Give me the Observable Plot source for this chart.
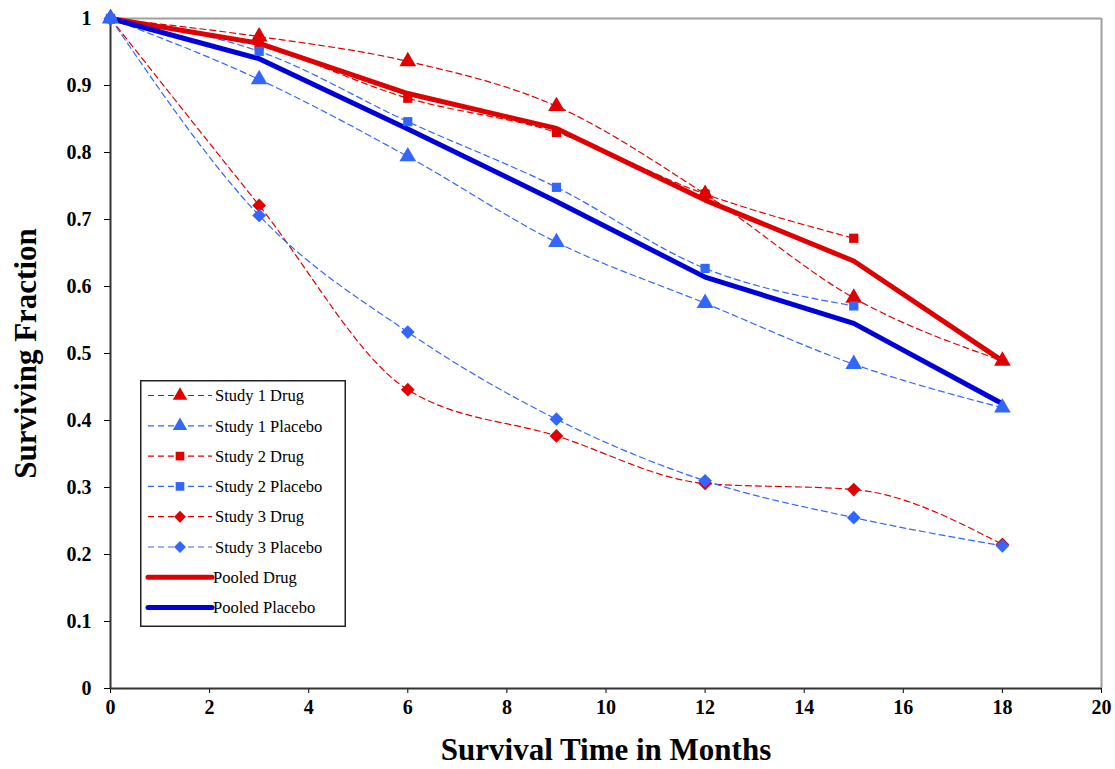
<!DOCTYPE html>
<html>
<head>
<meta charset="utf-8">
<script src="https://cdn.jsdelivr.net/npm/d3@7"></script>
<script src="https://cdn.jsdelivr.net/npm/@observablehq/plot@0.6"></script>
<style>
  body { margin: 0; background: #fff; }
  #wrap { position: relative; width: 1115px; height: 769px; }
  #legend { position: absolute; left: 140px; top: 380px; }
  #chart svg text { font-family: 'Liberation Serif', 'Times New Roman', serif; }
</style>
</head>
<body>
<div id="wrap"><div id="chart"></div><div id="legend"></div></div>
<script>
// ---- data ----
const months = [0, 3, 6, 9, 12, 15, 18];
const study1Drug    = [1, 0.973, 0.936, 0.869, 0.738, 0.583, 0.489];
const study1Placebo = [1, 0.909, 0.794, 0.666, 0.575, 0.484, 0.419];
const study2Drug    = [1, 0.960, 0.881, 0.830, 0.738, 0.672];
const study2Placebo = [1, 0.951, 0.846, 0.748, 0.627, 0.571];
const study3Drug    = [1, 0.721, 0.446, 0.377, 0.306, 0.297, 0.215];
const study3Placebo = [1, 0.706, 0.532, 0.402, 0.310, 0.255, 0.213];
const pooledDrug    = [1, 0.963, 0.888, 0.836, 0.729, 0.638, 0.489];
const pooledPlacebo = [1, 0.940, 0.835, 0.727, 0.614, 0.545, 0.425];
const xTicks = [0, 2, 4, 6, 8, 10, 12, 14, 16, 18, 20];
const yTicks = [0, 0.1, 0.2, 0.3, 0.4, 0.5, 0.6, 0.7, 0.8, 0.9, 1];
const seriesNames = ["Study 1 Drug", "Study 1 Placebo", "Study 2 Drug", "Study 2 Placebo",
                     "Study 3 Drug", "Study 3 Placebo", "Pooled Drug", "Pooled Placebo"];

const RED = "#e00000", BLUE_M = "#3366ff", BLUE_P = "#0000d8";
const studies = [
  {name: seriesNames[0], vals: study1Drug,    color: RED,    symbol: "triangle"},
  {name: seriesNames[1], vals: study1Placebo, color: BLUE_M, symbol: "triangle"},
  {name: seriesNames[2], vals: study2Drug,    color: RED,    symbol: "square"},
  {name: seriesNames[3], vals: study2Placebo, color: BLUE_M, symbol: "square"},
  {name: seriesNames[4], vals: study3Drug,    color: RED,    symbol: "diamond2"},
  {name: seriesNames[5], vals: study3Placebo, color: BLUE_M, symbol: "diamond2"}
];
const pooled = [
  {name: seriesNames[6], vals: pooledDrug,    color: RED},
  {name: seriesNames[7], vals: pooledPlacebo, color: BLUE_P}
];
const toRows = s => s.vals.map((v, i) => ({month: months[i], value: v, series: s.name}));

const font = "'Liberation Serif', 'Times New Roman', serif";
const marks = [
  Plot.ruleY([1], {stroke: "#a0a0a0", strokeWidth: 2}),
  Plot.ruleX([20], {stroke: "#a0a0a0", strokeWidth: 2}),
  Plot.axisX({ticks: xTicks, tickSize: 5, tickPadding: 6, fontSize: 20, fontWeight: "bold", label: null,
              fontFamily: font}),
  Plot.axisY({ticks: yTicks, tickSize: 6, tickPadding: 13, fontSize: 20, fontWeight: "bold", label: null,
              fontFamily: font, tickFormat: d => String(+d.toFixed(1))}),
  Plot.ruleX([0], {stroke: "#333", strokeWidth: 2}),
  Plot.ruleY([0], {stroke: "#333", strokeWidth: 2})
];
for (const s of studies) {
  marks.push(Plot.line(toRows(s), {x: "month", y: "value", stroke: s.color, strokeWidth: 1.2,
    strokeDasharray: "6,4", curve: "monotone-x"}));
}
for (const s of pooled) {
  marks.push(Plot.line(toRows(s), {x: "month", y: "value", stroke: s.color, strokeWidth: 5}));
}
for (const s of studies) {
  marks.push(Plot.dot(toRows(s), {x: "month", y: "value", symbol: () => s.symbol, fill: s.color,
    stroke: "none", r: s.symbol === "square" ? 5.2 : 6.2}));
}
marks.push(Plot.text(["Survival Time in Months"], {frameAnchor: "bottom", lineAnchor: "middle", dy: 62,
  fontSize: 31, fontWeight: "bold", fill: "black", fontFamily: font}));
marks.push(Plot.text(["Surviving Fraction"], {frameAnchor: "left", textAnchor: "middle", lineAnchor: "middle",
  dx: -84, rotate: -90, fontSize: 31, fontWeight: "bold", fill: "black", fontFamily: font}));

const chart = Plot.plot({
  width: 1115, height: 769,
  marginLeft: 110, marginRight: 14, marginTop: 18, marginBottom: 81,
  x: {domain: [0, 20]},
  y: {domain: [0, 1]},
  symbol: {type: "identity"},
  style: {fontFamily: font, color: "black", background: "white"},
  marks
});
document.getElementById("chart").appendChild(chart);

// ---- legend box ----
const lw = 206, lh = 247;
const leg = d3.select("#legend").append("svg").attr("width", lw).attr("height", lh)
  .style("font-family", font);
leg.append("rect").attr("x", 0.75).attr("y", 0.75).attr("width", lw - 1.5).attr("height", lh - 1.5)
  .attr("fill", "white").attr("stroke", "#222").attr("stroke-width", 1.5);
const entries = [...studies.map(s => ({...s, dashed: true})), ...pooled.map(s => ({...s, dashed: false}))];
entries.forEach((e, i) => {
  const y = 15.5 + i * 30.3;
  const g = leg.append("g");
  if (e.dashed) {
    g.append("line").attr("x1", 8).attr("x2", 72).attr("y1", y).attr("y2", y)
      .attr("stroke", e.color).attr("stroke-width", 1.2).attr("stroke-dasharray", "6,4");
    const sym = e.symbol === "triangle" ? d3.symbolTriangle : e.symbol === "square" ? d3.symbolSquare : d3.symbolDiamond2;
    const size = e.symbol === "square" ? 75 : 90;
    g.append("path").attr("d", d3.symbol(sym, size)()).attr("transform", `translate(40,${y})`).attr("fill", e.color);
  } else {
    g.append("line").attr("x1", 8).attr("x2", 72).attr("y1", y).attr("y2", y)
      .attr("stroke", e.color).attr("stroke-width", 5).attr("stroke-linecap", "round");
  }
  g.append("text").attr("x", e.dashed ? 75 : 73).attr("y", y).attr("dy", "0.35em")
    .attr("font-size", 16.5).attr("fill", "black").text(e.name);
});
</script>
</body>
</html>
